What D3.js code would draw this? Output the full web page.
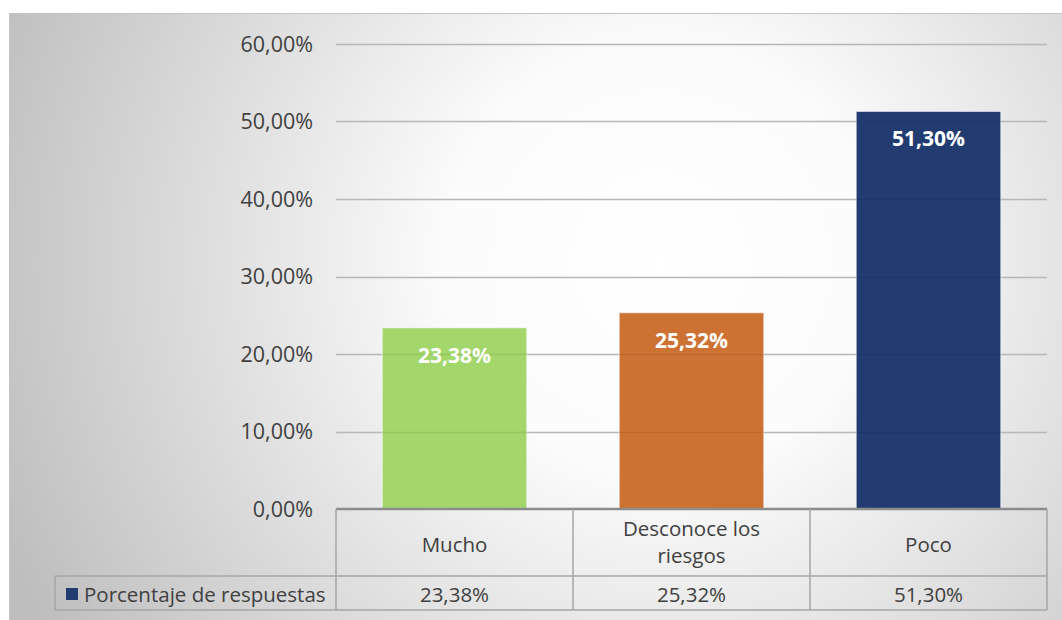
<!DOCTYPE html>
<html>
<head>
<meta charset="utf-8">
<script src="https://cdn.jsdelivr.net/npm/d3@7"></script>
<style>
  body { margin: 0; background: #fff; }
  text { font-family: "Open Sans", sans-serif; }
</style>
</head>
<body>
<script>
var categories = ['Mucho', 'Desconoce los riesgos', 'Poco'];
var headerLines = [['Mucho'], ['Desconoce los', 'riesgos'], ['Poco']];
var values = [23.38, 25.32, 51.30];
var barColors = ['#a3d76b', '#ce7234', '#223c72'];
var seriesName = 'Porcentaje de respuestas';
var yTicks = [0, 10, 20, 30, 40, 50, 60];

var width = 1062, height = 620;
var plotLeft = 336, plotRight = 1047, plotTop = 44, plotBottom = 509;
var rowSplit = 576, tableBottom = 610, legendLeft = 55;

function fmt(v) {
  return v.toFixed(2).replace('.', ',') + '%';
}

var svg = d3.select('body').append('svg')
    .attr('width', width)
    .attr('height', height);

var defs = svg.append('defs');
var grad = defs.append('radialGradient')
    .attr('id', 'bg')
    .attr('gradientUnits', 'userSpaceOnUse')
    .attr('cx', 660).attr('cy', 260).attr('r', 720);
grad.append('stop').attr('offset', 0).attr('stop-color', '#ffffff');
grad.append('stop').attr('offset', 0.3).attr('stop-color', '#fbfbfb');
grad.append('stop').attr('offset', 1).attr('stop-color', '#bdbdbd');

// chart area
svg.append('rect')
    .attr('x', 9.5).attr('y', 13.5)
    .attr('width', width).attr('height', height)
    .attr('fill', 'url(#bg)')
    .attr('stroke', '#c4c4c4');

var x = d3.scaleBand()
    .domain(categories)
    .range([plotLeft, plotRight])
    .paddingInner(0.39)
    .paddingOuter(0.195);

var y = d3.scaleLinear()
    .domain([0, 60])
    .range([plotBottom, plotTop]);

// gridlines
svg.append('g')
  .selectAll('line')
  .data(yTicks.slice(1))
  .enter()
  .append('line')
    .attr('x1', plotLeft).attr('x2', plotRight)
    .attr('y1', function(d) { return Math.round(y(d)) + 0.5; })
    .attr('y2', function(d) { return Math.round(y(d)) + 0.5; })
    .attr('stroke', '#c8c8c8')
    .attr('stroke-width', 1.5);

// y labels
svg.append('g')
  .selectAll('text')
  .data(yTicks)
  .enter()
  .append('text')
    .attr('x', 313)
    .attr('y', function(d) { return y(d) + 7.5; })
    .attr('text-anchor', 'end')
    .attr('font-size', 21.5)
    .attr('fill', '#404040')
    .text(function(d) { return fmt(d); });

// bars
svg.append('g')
  .selectAll('rect')
  .data(values)
  .enter()
  .append('rect')
    .attr('x', function(d, i) { return x(categories[i]); })
    .attr('y', function(d) { return y(d); })
    .attr('width', x.bandwidth())
    .attr('height', function(d) { return plotBottom - y(d); })
    .attr('fill', function(d, i) { return barColors[i]; })
    .attr('stroke', 'rgba(255,255,255,0.6)')
    .attr('stroke-width', 1);

// gridlines faintly visible over bars
svg.append('g')
  .selectAll('line')
  .data(yTicks.slice(1))
  .enter()
  .append('line')
    .attr('x1', plotLeft).attr('x2', plotRight)
    .attr('y1', function(d) { return Math.round(y(d)) + 0.5; })
    .attr('y2', function(d) { return Math.round(y(d)) + 0.5; })
    .attr('stroke', 'rgba(0,0,0,0.08)')
    .attr('stroke-width', 1.5);

// data labels
svg.append('g')
  .selectAll('text')
  .data(values)
  .enter()
  .append('text')
    .attr('x', function(d, i) { return x(categories[i]) + x.bandwidth() / 2; })
    .attr('y', function(d) { return y(d) + 35; })
    .attr('text-anchor', 'middle')
    .attr('font-size', 21)
    .attr('font-weight', 'bold')
    .attr('fill', '#ffffff')
    .text(function(d) { return fmt(d); });

// data table
var step = x.step();
var colEdges = categories.map(function(c) { return x(c) - x.paddingInner() * step / 2; });
var table = svg.append('g')
    .attr('fill', 'none')
    .attr('stroke', '#a6a6a6')
    .attr('stroke-width', 1.5);

table.append('line')
    .attr('x1', plotLeft).attr('x2', plotRight)
    .attr('y1', plotBottom).attr('y2', plotBottom)
    .attr('stroke', '#8c8c8c').attr('stroke-width', 2.5);
table.append('line')
    .attr('x1', legendLeft).attr('x2', plotRight)
    .attr('y1', rowSplit).attr('y2', rowSplit);
table.append('line')
    .attr('x1', legendLeft).attr('x2', plotRight)
    .attr('y1', tableBottom).attr('y2', tableBottom);
table.append('line')
    .attr('x1', legendLeft).attr('x2', legendLeft)
    .attr('y1', rowSplit).attr('y2', tableBottom);
table.selectAll('line.col')
  .data(colEdges.concat([plotRight]))
  .enter()
  .append('line')
    .attr('class', 'col')
    .attr('x1', function(d) { return d; })
    .attr('x2', function(d) { return d; })
    .attr('y1', plotBottom).attr('y2', tableBottom);

// header text
var head = svg.append('g')
  .selectAll('text')
  .data(headerLines)
  .enter()
  .append('text')
    .attr('text-anchor', 'middle')
    .attr('font-size', 20.5)
    .attr('fill', '#404040')
    .attr('x', function(d, i) { return x(categories[i]) + x.bandwidth() / 2; })
    .attr('y', function(d) { return d.length === 1 ? 552 : 536; });
head.selectAll('tspan')
  .data(function(d) { return d; })
  .enter()
  .append('tspan')
    .attr('x', function() { return d3.select(this.parentNode).attr('x'); })
    .attr('dy', function(d, i) { return i === 0 ? 0 : 27; })
    .text(function(d) { return d; });

// value row
svg.append('g')
  .selectAll('text')
  .data(values)
  .enter()
  .append('text')
    .attr('x', function(d, i) { return x(categories[i]) + x.bandwidth() / 2; })
    .attr('y', 602)
    .attr('text-anchor', 'middle')
    .attr('font-size', 20.5)
    .attr('fill', '#404040')
    .text(function(d) { return fmt(d); });

// legend cell
svg.append('rect')
    .attr('x', 66).attr('y', 588)
    .attr('width', 12).attr('height', 12)
    .attr('fill', barColors[2]);
svg.append('text')
    .attr('x', 84).attr('y', 602)
    .attr('font-size', 20.5)
    .attr('fill', '#404040')
    .text(seriesName);
</script>
</body>
</html>
